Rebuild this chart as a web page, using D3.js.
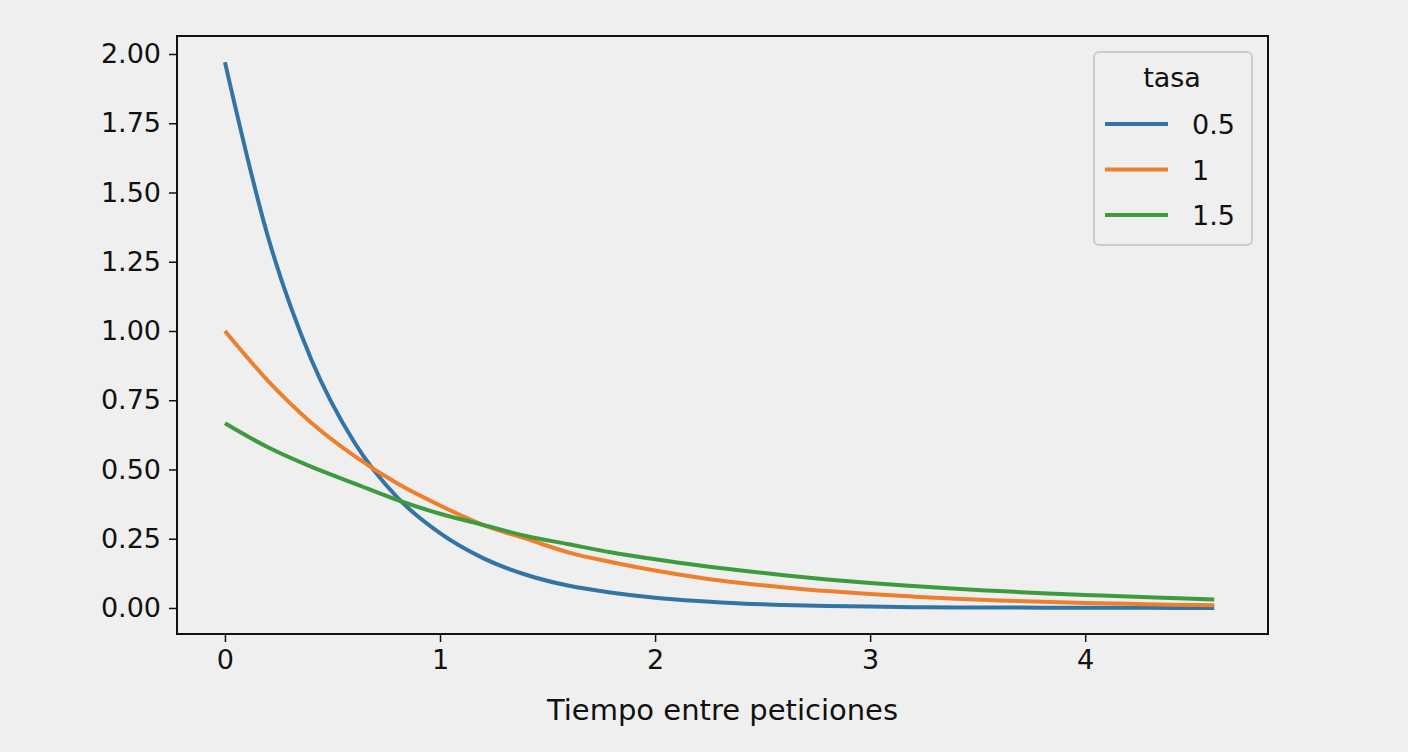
<!DOCTYPE html><html><head><meta charset="utf-8">
<script src="https://cdn.jsdelivr.net/npm/d3@7"></script>
<style>body{margin:0;background:#efefef}text{font-family:"DejaVu Sans",sans-serif}</style></head><body>
<svg id="c" width="1408" height="752"></svg>
<script>
const xs=[0,0.2,0.4,0.6,0.8,1.0,1.2,1.4,1.6,1.8,2.0,2.2,2.4,2.6,2.8,3.0,3.2,3.4,3.6,3.8,4.0,4.2,4.4,4.6];
const blue=[1.97,1.34,0.90,0.60,0.40,0.27,0.18,0.12,0.08,0.055,0.037,0.025,0.016,0.011,0.007,0.005,0.003,0.002,0.0015,0.001,0.0007,0.0004,0.0003,0.0002];
const orange=[1.0,0.82,0.67,0.55,0.45,0.37,0.30,0.25,0.20,0.165,0.135,0.11,0.09,0.074,0.061,0.05,0.041,0.033,0.027,0.022,0.018,0.015,0.012,0.010];
const green=[0.667,0.58,0.51,0.45,0.39,0.34,0.30,0.26,0.23,0.20,0.176,0.154,0.135,0.118,0.103,0.090,0.079,0.069,0.061,0.053,0.047,0.041,0.036,0.031];
const names=["0.5","1","1.5"], colors=["#3274a6","#ee7f2d","#3d9a3d"];
const xTicks=[0,1,2,3,4], yTicks=[0,0.25,0.5,0.75,1,1.25,1.5,1.75,2];
const L=177,R=1268,T=36,B=634;
const x=d3.scaleLinear().domain([-0.223,4.85]).range([L,R]);
const y=d3.scaleLinear().domain([-0.094,2.065]).range([B,T]);
const svg=d3.select("#c");
svg.append("rect").attr("width",1408).attr("height",752).attr("fill","#efefef");
const gx=svg.append("g").attr("transform",`translate(0,${B})`).call(d3.axisBottom(x).tickValues(xTicks).tickFormat(d3.format("d")).tickSize(8).tickPadding(8));
const gy=svg.append("g").attr("transform",`translate(${L},0)`).call(d3.axisLeft(y).tickValues(yTicks).tickFormat(d3.format(".2f")).tickSize(8).tickPadding(8));
[gx,gy].forEach(g=>{g.select(".domain").remove();g.selectAll("text").attr("font-size",27).attr("fill","#111");g.selectAll("line").attr("stroke","#111").attr("stroke-width",1.5);});
[blue,orange,green].forEach((s,i)=>{
 svg.append("path").datum(s).attr("fill","none").attr("stroke",colors[i]).attr("stroke-width",4)
 .attr("d",d3.line().x((d,j)=>x(xs[j])).y(d=>y(d)).curve(d3.curveMonotoneX));
});
svg.append("rect").attr("x",L).attr("y",T).attr("width",R-L).attr("height",B-T).attr("fill","none").attr("stroke","#111").attr("stroke-width",2);
svg.append("text").attr("x",(L+R)/2+500-500).attr("y",720).attr("text-anchor","middle").attr("font-size",29).attr("fill","#111").text("Tiempo entre peticiones");
const lg=svg.append("g");
lg.append("rect").attr("x",1094).attr("y",52).attr("width",158).attr("height",193).attr("rx",5).attr("fill","#efefef").attr("stroke","#ccc").attr("stroke-width",2);
lg.append("text").attr("x",1172).attr("y",87).attr("text-anchor","middle").attr("font-size",27).attr("fill","#111").text("tasa");
names.forEach((n,i)=>{const yy=124+i*45.5;
 lg.append("line").attr("x1",1105).attr("x2",1168).attr("y1",yy).attr("y2",yy).attr("stroke",colors[i]).attr("stroke-width",4);
 lg.append("text").attr("x",1192).attr("y",yy+10).attr("font-size",27).attr("fill","#111").text(n);});
</script></body></html>
